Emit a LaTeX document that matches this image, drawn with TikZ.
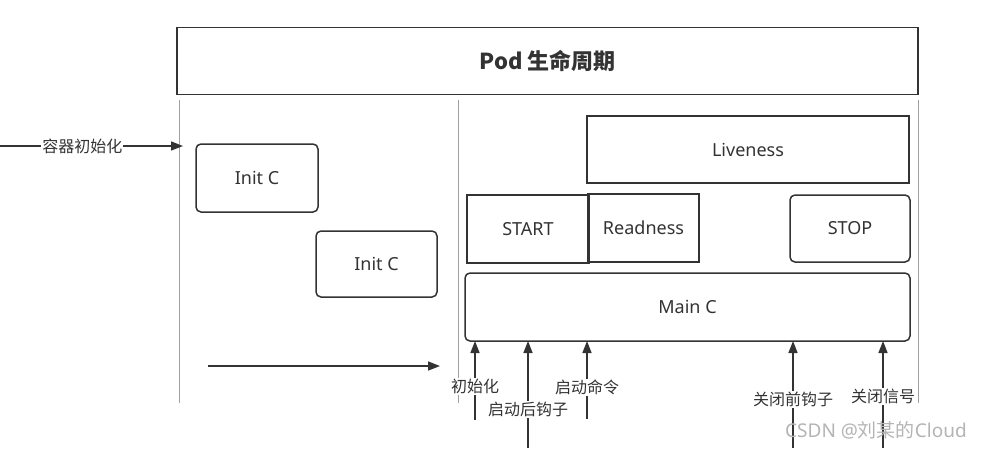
\documentclass[tikz,border=0pt]{standalone}
\usepackage{fontspec}
\setmainfont{Noto Sans}
\newfontfamily\cjk{Noto Sans CJK SC}
\usetikzlibrary{arrows.meta}
\definecolor{edge}{HTML}{333333}
\definecolor{sepgray}{HTML}{A0A0A0}
\definecolor{wmgray}{HTML}{B4B4B4}

\begin{document}
\begin{tikzpicture}[x=1pt,y=-1pt,
	box/.style={draw=edge,line width=1.5pt,text=edge,inner sep=0,outer sep=0,font=\fontsize{18}{20}\selectfont},
	rbox/.style={box,rounded corners=5pt},
	arr/.style={draw=edge,line width=1.6pt,-{Triangle[length=12pt,width=9pt]}},
	lbl/.style={fill=white,text=edge,inner sep=1pt,font=\cjk\fontsize{16}{18}\selectfont},
	sepline/.style={draw=sepgray,line width=1pt}]
	\useasboundingbox (0,0) rectangle (981,448);
	% title and phase separators
	\node[box,minimum width=741pt,minimum height=67pt,font=\cjk\bfseries\fontsize{22}{26}\selectfont] (pod) at (547.5,61) {Pod 生命周期};
	\draw[sepline] (179,100) -- (179,403);
	\draw[sepline] (458,100) -- (458,403);
	\draw[sepline] (918,100) -- (918,403);
	% init containers
	\node[rbox,minimum width=122pt,minimum height=68pt] (init1) at (257,178) {Init C};
	\node[rbox,minimum width=121pt,minimum height=66pt] (init2) at (376.5,264) {Init C};
	% main container
	\node[box,minimum width=322pt,minimum height=67pt] (live) at (748,149.5) {Liveness};
	\node[box,minimum width=122pt,minimum height=68pt] (start) at (528,229) {START};
	\node[box,minimum width=111pt,minimum height=68pt] (ready) at (643.5,228) {Readness};
	\node[rbox,minimum width=120pt,minimum height=67pt] (stop) at (850,228.5) {STOP};
	\node[rbox,minimum width=445pt,minimum height=68pt] (mainc) at (687.5,307) {Main C};
	% arrows
	\coordinate (in0) at (0,146);
	\coordinate (in1) at (183,146);
	\draw[arr] (in0) -- node[lbl,pos=0.45] {容器初始化} (in1);
	\coordinate (t0) at (208,366);
	\coordinate (t1) at (440,366);
	\draw[arr] (t0) -- (t1);
	\coordinate (a1) at (475,420);
	\coordinate (a2) at (528,448);
	\coordinate (a3) at (587,419);
	\coordinate (a4) at (793,448);
	\coordinate (a5) at (883,448);
	\draw[arr] (a1) -- node[lbl,pos=0.42] {初始化} (a1 |- mainc.south);
	\draw[arr] (a2) -- node[lbl,pos=0.36] {启动后钩子} (a2 |- mainc.south);
	\draw[arr] (a3) -- node[lbl,pos=0.41] {启动命令} (a3 |- mainc.south);
	\draw[arr] (a4) -- node[lbl,pos=0.45] {关闭前钩子} (a4 |- mainc.south);
	\draw[arr] (a5) -- node[lbl,pos=0.48] {关闭信号} (a5 |- mainc.south);
	\node[text=wmgray,font=\fontsize{19}{21}\selectfont] (wm) at (876,430) {CSDN @{\cjk 刘某的}Cloud};
\end{tikzpicture}
\end{document}
